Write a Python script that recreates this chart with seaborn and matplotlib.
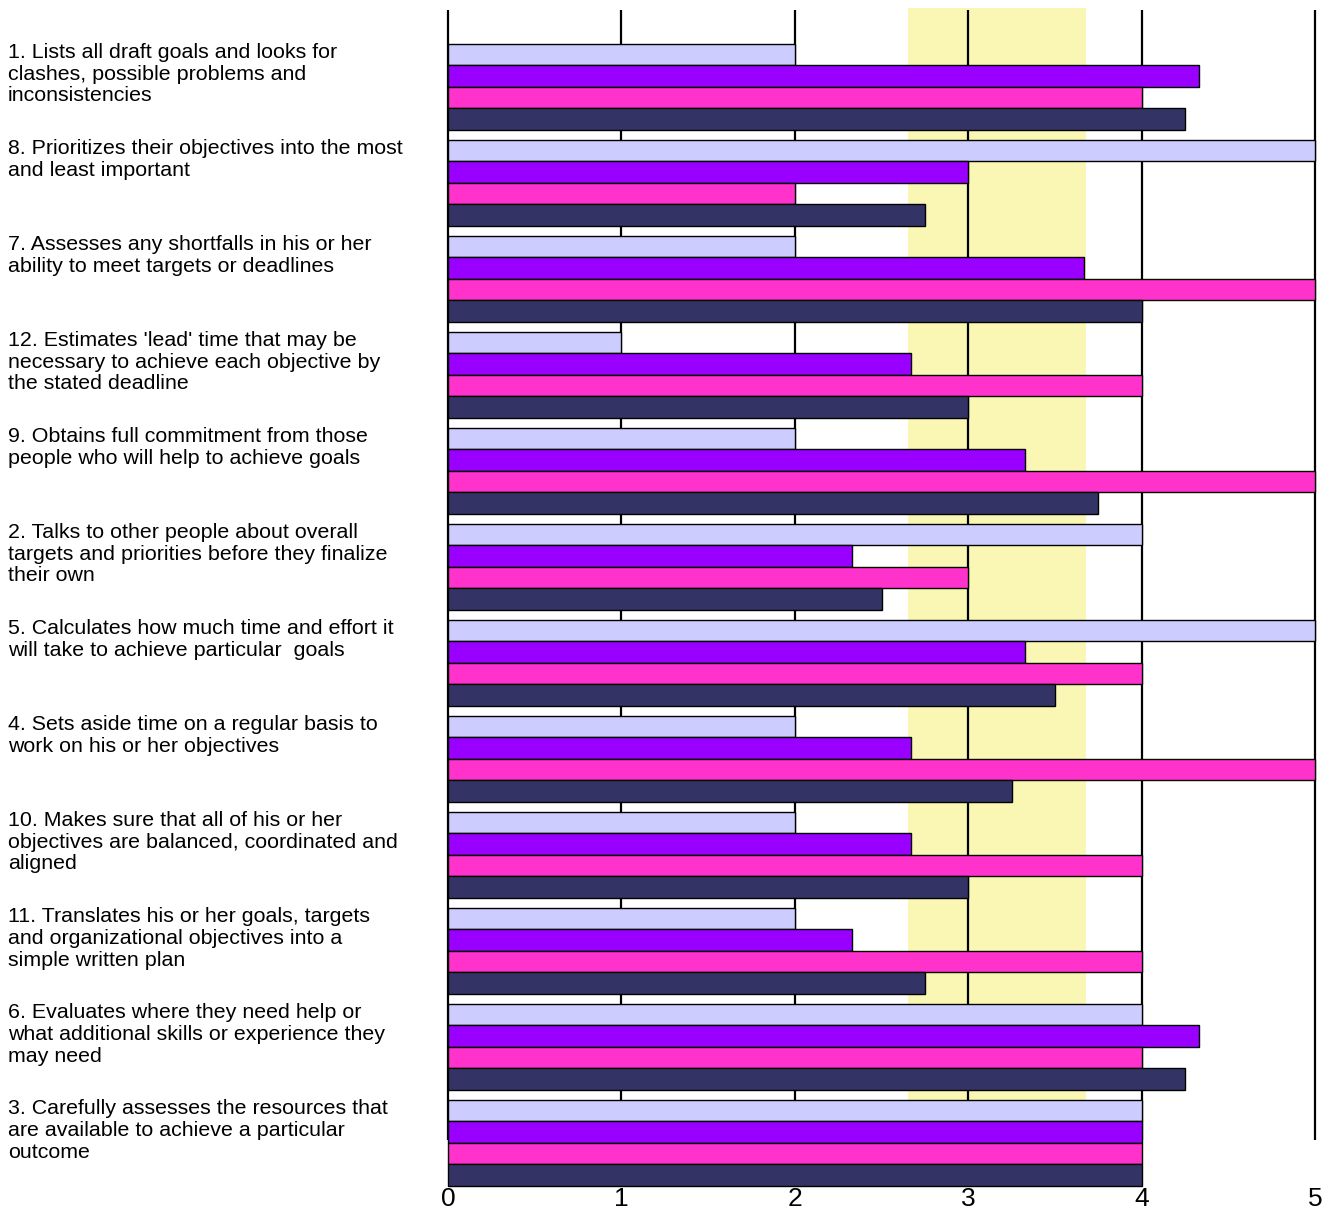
import matplotlib
matplotlib.use("Agg")
import matplotlib.pyplot as plt
import matplotlib.transforms as mtransforms
import seaborn as sns
import pandas as pd

categories = [
    "1. Lists all draft goals and looks for\nclashes, possible problems and\ninconsistencies",
    "8. Prioritizes their objectives into the most\nand least important",
    "7. Assesses any shortfalls in his or her\nability to meet targets or deadlines",
    "12. Estimates 'lead' time that may be\nnecessary to achieve each objective by\nthe stated deadline",
    "9. Obtains full commitment from those\npeople who will help to achieve goals",
    "2. Talks to other people about overall\ntargets and priorities before they finalize\ntheir own",
    "5. Calculates how much time and effort it\nwill take to achieve particular  goals",
    "4. Sets aside time on a regular basis to\nwork on his or her objectives",
    "10. Makes sure that all of his or her\nobjectives are balanced, coordinated and\naligned",
    "11. Translates his or her goals, targets\nand organizational objectives into a\nsimple written plan",
    "6. Evaluates where they need help or\nwhat additional skills or experience they\nmay need",
    "3. Carefully assesses the resources that\nare available to achieve a particular\noutcome",
]
series_names = ["Series 1", "Series 2", "Series 3", "Series 4"]
series_1 = [2, 5, 2, 1, 2, 4, 5, 2, 2, 2, 4, 4]
series_2 = [4.33, 3, 3.67, 2.67, 3.33, 2.33, 3.33, 2.67, 2.67, 2.33, 4.33, 4]
series_3 = [4, 2, 5, 4, 5, 3, 4, 5, 4, 4, 4, 4]
series_4 = [4.25, 2.75, 4, 3, 3.75, 2.5, 3.5, 3.25, 3, 2.75, 4.25, 4]
colors = ["#CCCCFF", "#9900FF", "#FF33CC", "#333366"]
band_range = [2.65, 3.68]
x_ticks = [0, 1, 2, 3, 4, 5]

rows = []
for name, vals in zip(series_names, [series_1, series_2, series_3, series_4]):
    for c, v in zip(categories, vals):
        rows.append({"category": c, "series": name, "value": v})
df = pd.DataFrame(rows)

sns.set_theme(style="white")
plt.rcParams["font.family"] = ["Liberation Sans", "DejaVu Sans"]

W, H = 1335, 1212
fig = plt.figure(figsize=(W / 100, H / 100), dpi=100)
ax = fig.add_axes([448 / W, 1 - 1186 / H, (1315 - 448) / W, (1186 - 8) / H])

top_y, grid_bottom = -0.82, 10.97
ax.fill_betweenx([top_y, grid_bottom], band_range[0], band_range[1],
                 color="#FAF6B4", lw=0, zorder=0)
ax.vlines(x_ticks, -0.80, grid_bottom, color="black", lw=1.6, zorder=1,
          clip_on=False)

sns.barplot(data=df, y="category", x="value", hue="series", order=categories,
            hue_order=series_names, palette=colors, orient="h", width=0.9,
            edgecolor="black", linewidth=1.0, saturation=1, ax=ax, zorder=3,
            legend=False)
for p in ax.patches:
    p.set_clip_on(False)

ax.set_xlim(0, 5)
ax.set_ylim(11.45, top_y)
for s in ax.spines.values():
    s.set_visible(False)
ax.set_xlabel("")
ax.set_ylabel("")
ax.set_yticks([])
ax.set_xticks(x_ticks)
ax.set_xticklabels([str(t) for t in x_ticks], fontsize=19, color="black")
ax.tick_params(axis="x", length=0, pad=1)
ax.grid(False)

trans = mtransforms.blended_transform_factory(fig.transFigure, ax.transData)
for i, lab in enumerate(categories):
    ax.text(8 / W, i - 0.455, lab, transform=trans, ha="left", va="top",
            fontsize=15.4, linespacing=1.18, color="black")

fig.savefig("out.png", dpi=100, facecolor="white")
